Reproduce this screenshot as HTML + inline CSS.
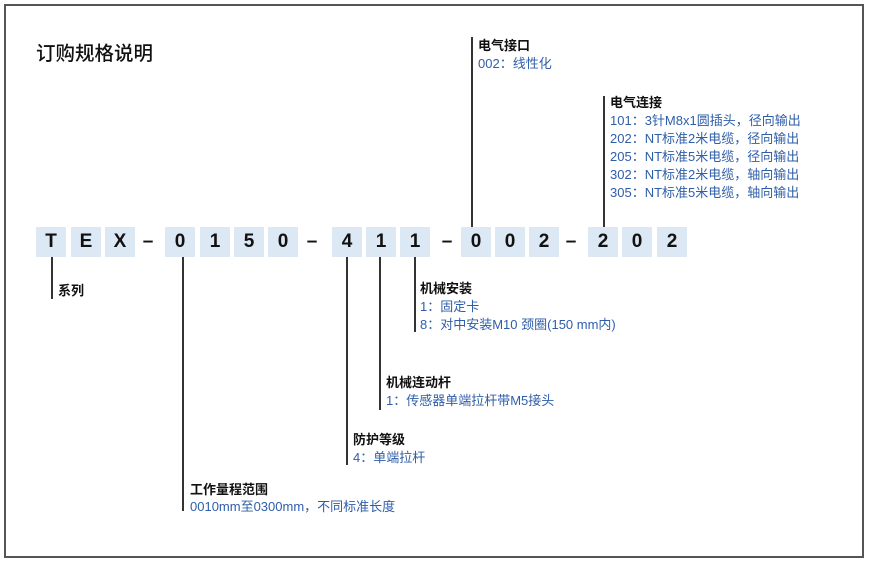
<!DOCTYPE html>
<html><head><meta charset="utf-8"><style>
*{margin:0;padding:0;box-sizing:border-box}
body{width:869px;height:564px;background:#fff;position:relative;overflow:hidden;font-family:"Liberation Sans","Noto Sans CJK SC",sans-serif}
.frame{position:absolute;left:4px;top:4px;width:860px;height:554px;border:2px solid #555}
.b{position:absolute;top:227px;width:30px;height:30px;background:#dde8f5;font-size:19px;font-weight:bold;color:#111;text-align:center;line-height:30px}
.d{position:absolute;top:227px;width:16px;height:30px;font-size:19px;font-weight:bold;text-align:center;line-height:30px;color:#111}
.v{position:absolute;width:2px;background:#333}
.t{position:absolute;font-size:13px;font-weight:bold;color:#111;white-space:nowrap;line-height:18px}
.s{position:absolute;font-size:13px;color:#2f5ea8;white-space:nowrap;line-height:18px}
</style></head><body>
<div class="frame"></div>
<div style="position:absolute;left:36px;top:37px;font-size:19.5px;color:#111;font-weight:500">订购规格说明</div>

<div class="b" style="left:36px">T</div>
<div class="b" style="left:71px">E</div>
<div class="b" style="left:105px">X</div>
<div class="d" style="left:140px">–</div>
<div class="b" style="left:165px">0</div>
<div class="b" style="left:200px">1</div>
<div class="b" style="left:234px">5</div>
<div class="b" style="left:268px">0</div>
<div class="d" style="left:304px">–</div>
<div class="b" style="left:332px">4</div>
<div class="b" style="left:366px">1</div>
<div class="b" style="left:400px">1</div>
<div class="d" style="left:439px">–</div>
<div class="b" style="left:461px">0</div>
<div class="b" style="left:495px">0</div>
<div class="b" style="left:529px">2</div>
<div class="d" style="left:563px">–</div>
<div class="b" style="left:588px">2</div>
<div class="b" style="left:622px">0</div>
<div class="b" style="left:657px">2</div>

<div class="v" style="left:51px;top:257px;height:42px"></div>
<div class="v" style="left:182px;top:257px;height:254px"></div>
<div class="v" style="left:346px;top:257px;height:208px"></div>
<div class="v" style="left:379px;top:257px;height:153px"></div>
<div class="v" style="left:414px;top:257px;height:75px"></div>
<div class="v" style="left:471px;top:37px;height:190px"></div>
<div class="v" style="left:603px;top:96px;height:131px"></div>

<div class="t" style="left:58px;top:282px">系列</div>

<div class="t" style="left:420px;top:280px">机械安装</div>
<div class="s" style="left:420px;top:298px">1：固定卡</div>
<div class="s" style="left:420px;top:316px">8：对中安装M10 颈圈(150 mm内)</div>

<div class="t" style="left:386px;top:374px">机械连动杆</div>
<div class="s" style="left:386px;top:392px">1：传感器单端拉杆带M5接头</div>

<div class="t" style="left:353px;top:431px">防护等级</div>
<div class="s" style="left:353px;top:449px">4：单端拉杆</div>

<div class="t" style="left:190px;top:481px">工作量程范围</div>
<div class="s" style="left:190px;top:498px">0010mm至0300mm，不同标准长度</div>

<div class="t" style="left:478px;top:37px">电气接口</div>
<div class="s" style="left:478px;top:55px">002：线性化</div>

<div class="t" style="left:610px;top:94px">电气连接</div>
<div class="s" style="left:610px;top:112px">101：3针M8x1圆插头，径向输出</div>
<div class="s" style="left:610px;top:130px">202：NT标准2米电缆，径向输出</div>
<div class="s" style="left:610px;top:148px">205：NT标准5米电缆，径向输出</div>
<div class="s" style="left:610px;top:166px">302：NT标准2米电缆，轴向输出</div>
<div class="s" style="left:610px;top:184px">305：NT标准5米电缆，轴向输出</div>
</body></html>
